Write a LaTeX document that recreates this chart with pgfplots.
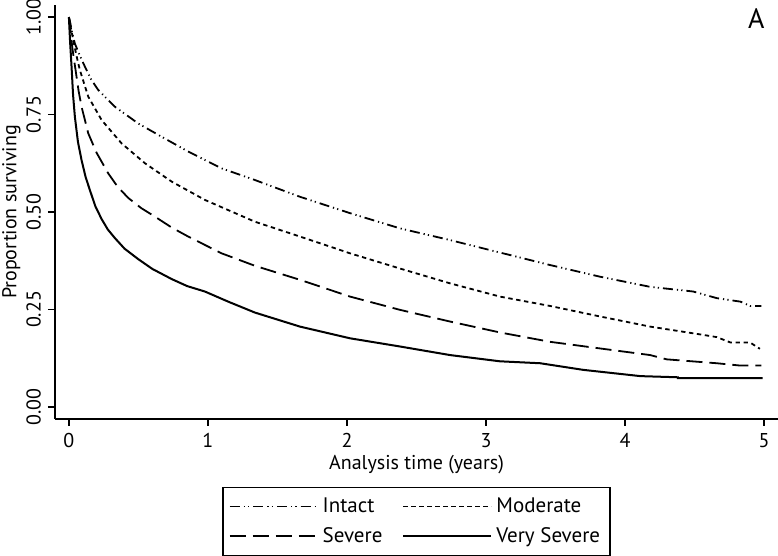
\documentclass[border=0pt]{standalone}
\usepackage{fontspec}
\setmainfont{PT Sans}
\usepackage{pgfplots}
\pgfplotsset{compat=1.18}

\begin{document}
\begin{tikzpicture}
\begin{axis}[
    name=ax,
    scale only axis,
    width=361.5pt,
    height=207pt,
    xmin=-0.1, xmax=5.1,
    ymin=-0.031, ymax=1.031,
    axis lines=left,
    axis line style={-, line width=0.8pt},
    tick align=outside,
    tick style={black, line width=0.8pt},
    major tick length=3.5pt,
    xtick={0,1,2,3,4,5},
    ytick={0,0.25,0.5,0.75,1},
    /pgf/number format/assume math mode=true,
    yticklabel style={rotate=90, anchor=south, /pgf/number format/fixed,
        /pgf/number format/fixed zerofill, /pgf/number format/precision=2},
    ticklabel style={font=\fontsize{10}{12}\selectfont},
    label style={font=\fontsize{10}{12}\selectfont},
    xlabel={Analysis time (years)},
    ylabel={Proportion surviving},
    xlabel style={yshift=3pt},
    ylabel style={yshift=-4pt},
    legend columns=2,
    legend cell align=left,
    legend style={at={([yshift=-34pt]axis description cs:0.5,0)}, anchor=north,
        font=\fontsize{10.5}{12}\selectfont, draw=black, line width=0.6pt,
        inner xsep=3pt, inner ysep=3pt,
        /tikz/every even column/.append style={column sep=8pt},
        row sep=2pt},
    legend image code/.code={\draw[#1, line width=0.9pt] (0pt,0pt) -- (40pt,0pt);
        \path (0pt,0pt) -- (44pt,0pt);},
]
\addplot[black, line width=0.9pt, dash pattern=on 5pt off 2pt on 0.6pt off 1.6pt on 0.6pt off 2pt] coordinates {
(0,1.0) (0.01,0.985) (0.02,0.965) (0.043,0.932) (0.08,0.90) (0.115,0.873) (0.16,0.84) (0.211,0.813)
(0.331,0.770) (0.499,0.727) (0.667,0.693) (0.858,0.655) (1.098,0.612)
(1.338,0.582) (1.662,0.539) (2.022,0.497) (2.381,0.458) (2.741,0.428)
(3.10,0.396) (3.46,0.364) (3.82,0.334) (4.18,0.308) (4.49,0.296)
(4.66,0.279) (4.83,0.270) (4.90,0.259) (4.98,0.259)
};
\addlegendentry{Intact}
\addplot[black, line width=0.9pt, dash pattern=on 2.2pt off 1.8pt] coordinates {
(0,1.0) (0.01,0.98) (0.031,0.941) (0.055,0.90) (0.079,0.864) (0.139,0.796) (0.235,0.736)
(0.379,0.676) (0.547,0.625) (0.739,0.578) (0.978,0.531) (1.338,0.475)
(1.662,0.437) (2.022,0.394) (2.381,0.355) (2.741,0.317) (3.10,0.283)
(3.46,0.259) (3.82,0.232) (4.18,0.206) (4.54,0.186) (4.66,0.179)
(4.76,0.165) (4.90,0.165) (4.97,0.149)
};
\addlegendentry{Moderate}
\addplot[black, line width=0.9pt, dash pattern=on 8pt off 3.5pt] coordinates {
(0,1.0) (0.007,0.98) (0.025,0.92) (0.048,0.864) (0.07,0.81) (0.091,0.770) (0.139,0.702) (0.199,0.652)
(0.283,0.599) (0.35,0.565) (0.427,0.536) (0.52,0.510) (0.619,0.488) (0.74,0.460) (0.858,0.437) (1.098,0.394)
(1.338,0.362) (1.662,0.326) (2.022,0.283) (2.381,0.249) (2.741,0.219)
(3.10,0.191) (3.46,0.167) (3.82,0.150) (4.18,0.133) (4.30,0.122)
(4.66,0.112) (4.83,0.106) (4.98,0.106)
};
\addlegendentry{Severe}
\addplot[black, line width=1pt] coordinates {
(0,1.0) (0.008,0.94) (0.019,0.873) (0.03,0.80) (0.043,0.744) (0.065,0.68) (0.091,0.633) (0.12,0.59) (0.151,0.556)
(0.19,0.515) (0.235,0.482) (0.28,0.455) (0.331,0.433) (0.40,0.406) (0.499,0.379) (0.60,0.354)
(0.739,0.328) (0.85,0.310) (0.978,0.296)
(1.146,0.270) (1.338,0.242) (1.662,0.206) (2.022,0.176) (2.381,0.155)
(2.741,0.133) (3.10,0.117) (3.39,0.112) (3.70,0.095) (4.11,0.079)
(4.38,0.076) (4.38,0.074) (4.99,0.074)
};
\addlegendentry{Very Severe}
\node[anchor=north east, inner sep=0pt, font=\fontsize{14}{16}\selectfont]
    at ([xshift=-6.5pt, yshift=-1.5pt]rel axis cs:1,1) {A};
\end{axis}
\pgfresetboundingbox
\path (ax.south west) ++(-27.5pt,-68.5pt) coordinate (bl);
\path (ax.north east) ++(0pt,2.5pt) coordinate (tr);
\path[use as bounding box] (bl) rectangle (tr);
\end{tikzpicture}
\end{document}
